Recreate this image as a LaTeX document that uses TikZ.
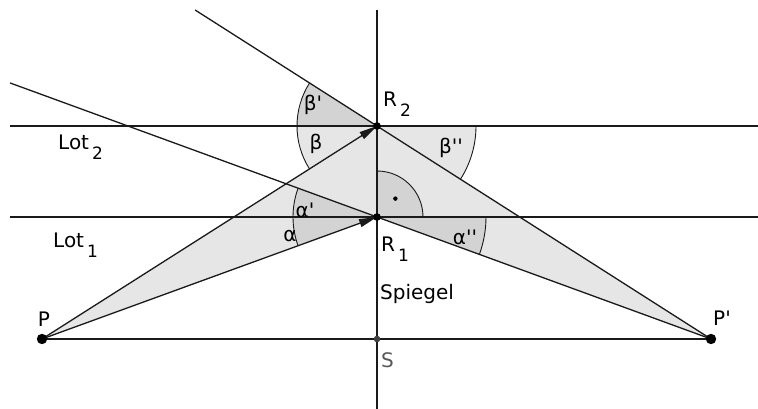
\documentclass[tikz,border=0pt]{standalone}
\usepackage{fontspec}
\setmainfont{DejaVu Sans}[Ligatures=TeXOff]
\usetikzlibrary{arrows.meta,calc}
\newcommand\mysub[1]{\kern3pt\lower10pt\hbox{\fontsize{17}{17}\selectfont #1}}
\newcommand\pr{'}
\definecolor{lightfill}{HTML}{E6E6E6}
\definecolor{darkfill}{HTML}{D3D3D3}
\definecolor{linecol}{HTML}{1A1A1A}
\begin{document}
\begin{tikzpicture}[x=1pt,y=1pt,
  ln/.style={line width=1.3pt, draw=linecol},
  arcline/.style={line width=0.9pt, draw=linecol},
  arr/.style={ln, -{Triangle[length=18pt,width=8pt]}},
  lab/.style={font=\fontsize{20}{24}\selectfont, inner sep=0pt, text=black},
  glab/.style={font=\fontsize{20}{24}\selectfont, inner sep=0pt, text=black},
  dot/.style={fill=black}]
\useasboundingbox (0,0) rectangle (758,409);
\fill[white] (0,0) rectangle (758,409);
% points
\coordinate (P) at (42,70);
\coordinate (P2) at (711,70);
\coordinate (S) at (377,70);
\coordinate (R2) at (377,283);
\coordinate (R1) at (377,192);
\coordinate (MT) at (377,399);
\coordinate (MB) at (377,0);
\coordinate (L2a) at (10,283);
\coordinate (L2b) at (758,283);
\coordinate (L1a) at (10,192);
\coordinate (L1b) at (758,192);
\coordinate (E2) at ($(P2)!1.5446!(R2)$);
\coordinate (E1) at ($(P2)!2.0988!(R1)$);
% fills
\fill[lightfill] (P) -- (R2) -- (P2) -- (R1) -- cycle;
\fill[darkfill] (R1) -- ++(159.93:84) arc[start angle=159.93, end angle=200.0, radius=84] -- cycle;
\fill[darkfill] (R1) -- ++(-20.07:109) arc[start angle=-20.07, end angle=0, radius=109] -- cycle;
\fill[darkfill] (R1) -- ++(0:46) arc[start angle=0, end angle=90, radius=46] -- cycle;
\fill[darkfill] (R2) -- ++(147.47:80) arc[start angle=147.47, end angle=180, radius=80] -- cycle;
\fill[lightfill] (R2) -- ++(180:80) arc[start angle=180, end angle=212.45, radius=80] -- cycle;
\fill[lightfill] (R2) -- ++(-32.53:99) arc[start angle=-32.53, end angle=0, radius=99] -- cycle;
% arcs
\draw[arcline] (R1) ++(159.93:84) arc[start angle=159.93, end angle=200.0, radius=84];
\draw[arcline] (R1) ++(-20.07:109) arc[start angle=-20.07, end angle=0, radius=109];
\draw[arcline] (R1) ++(0:46) arc[start angle=0, end angle=90, radius=46];
\draw[arcline] (R2) ++(147.47:80) arc[start angle=147.47, end angle=212.45, radius=80];
\draw[arcline] (R2) ++(-32.53:99) arc[start angle=-32.53, end angle=0, radius=99];
\fill (R1) ++(45:26) circle (2.2);
% lines
\draw[ln] (L2a) -- (L2b);
\draw[ln] (L1a) -- (L1b);
\draw[ln] (MT) -- (MB);
\draw[ln] (P) -- (P2);
\draw[ln] (E2) -- (R2) -- (P2);
\draw[ln] (E1) -- (R1) -- (P2);
\draw[line width=2.6pt, draw=linecol] (R2) -- (R1);
\draw[arr] (P) -- (R2);
\draw[arr] (P) -- (R1);
% dots
\fill[dot] (P) circle (5.2);
\fill[dot] (P2) circle (5.2);
\fill[dot] (R2) circle (3.8);
\fill[dot] (R1) circle (3.8);
\fill[black!75] (S) circle (3.3);
% labels
\node[lab, anchor=base west] (tlot2) at (58,259) {Lot\mysub{2}};
\node[lab, anchor=base west] (tlot1) at (53,161) {Lot\mysub{1}};
\node[lab, anchor=base west] (tr2) at (383,302) {R\mysub{2}};
\node[lab, anchor=base west] (tr1) at (381,157) {R\mysub{1}};
\node[lab, anchor=base west] (tsp) at (380,109) {Spiegel};
\node[lab, anchor=base west, text=black!65] (ts) at (381,41) {S};
\node[lab, anchor=base] (tp) at (44,82) {P};
\node[lab, anchor=base west] (tp2) at (713,83) {P\pr};
\node[glab] (tb1) at (313,304) {β\pr};
\node[glab] (tb) at (316,265) {β};
\node[glab] (tb2) at (451,261) {β\pr\pr};
\node[glab] (ta1) at (305,199) {α\pr};
\node[glab] (ta) at (290,173) {α};
\node[glab] (ta2) at (465,172) {α\pr\pr};
\end{tikzpicture}
\end{document}
